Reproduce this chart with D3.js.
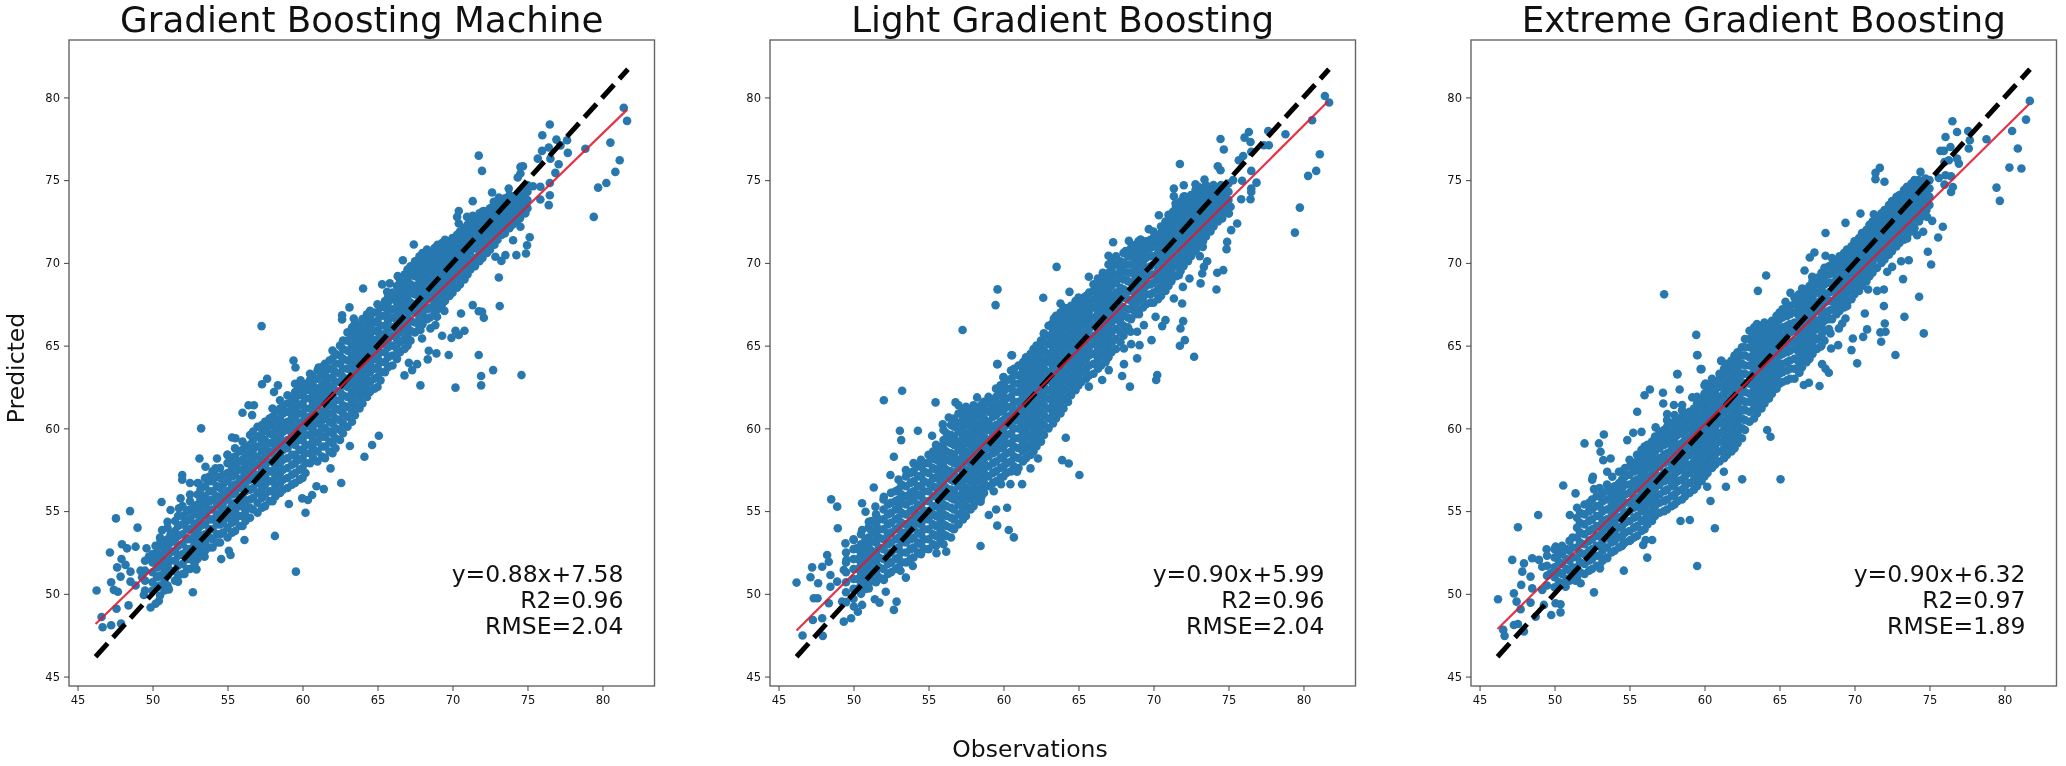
<!DOCTYPE html>
<html><head><meta charset="utf-8">
<script src="https://cdn.jsdelivr.net/npm/d3@7/dist/d3.min.js"></script>
<style>html,body{margin:0;background:#fff}svg{display:block;filter:blur(.4px)}text{font-family:"DejaVu Sans";fill:#111}</style>
</head><body><svg id="c" width="2066" height="766"></svg>
<script>
const titles=["Gradient Boosting Machine","Light Gradient Boosting","Extreme Gradient Boosting"];
const notes=[["y=0.88x+7.58","R2=0.96","RMSE=2.04"],["y=0.90x+5.99","R2=0.96","RMSE=2.04"],["y=0.90x+6.32","R2=0.97","RMSE=1.89"]];
const tickValues=[45,50,55,60,65,70,75,80];
const axisDomain=[44.43,83.47];
const identityEnds=[46.2,81.7];
const fitObs=[46.2,81.65];
const fitPred=[[48.18,79.26],[47.78,79.77],[47.88,79.6]];

// outlying and fringe points, flat x,y reading order
const gbmFringe=[46.27,50.2,46.6,48.6,46.67,47.98,47.24,48.1,47.9,48.2,47.6,49.1,48.4,49.3,47.16,52.5,47.56,54.56,48.5,55,49,54,47.96,53,48.3,52.75,48.87,52.85,47.93,52.1,47.64,51.6,48.2,51.75,48.53,51.34,47.87,51.04,47.24,50.7,47.42,50.24,47.69,50.13,48.53,50.74,49.2,51.4,49.3,51,48.87,50.5,49.6,52.75,50.2,52.9,49.76,52.25,50.3,52.45,50.53,53.25,51.1,53.05,50.64,53.85,51,54.36,50.6,55.55,51.2,55.07,51.76,55.17,52.3,54.96,52.87,54.86,51.87,55.77,52.5,56,53.2,55.9,53.64,55.67,51.98,57.18,51.98,56.9,52.5,56.7,53.09,56.67,53.24,60,53.13,58.18,53.53,57.68,53.76,57.08,54.3,58.18,54.2,57.58,55,58.4,55.3,59.45,55.53,59.4,56,60.94,56.64,60.8,56.4,61.4,56.76,61.4,57.3,62.67,57.64,63,58.36,62.6,58.1,62.2,59.4,64.1,59.53,63.68,61.07,63.68,59.87,62.9,60.53,62.9,57.27,66.18,59.56,51.34,58.16,53.5,60.2,54.9,59.09,55.43,62.58,56.7,64.13,58.28,64.64,58.99,65.09,59.55,63.16,58.93,61.87,57.58,61.42,56.33,60.93,56.5,60.64,55.97,60.36,55.67,59.98,55.77,56.13,53.25,55.09,52.6,55.2,52.35,54.58,52.1,53.47,52.25,52.93,51.48,52.69,50.1,52.13,51.2,51.7,50.74,51.09,50.27,50.2,49.4,49.87,49.17,50.42,49.57,49.42,49.93,81.42,79.38,81.64,78.58,76.49,78.36,75.99,77.71,80.53,77.27,81.15,76.2,80.86,75.5,80.26,74.83,79.71,74.55,79.42,72.78,78.86,76.9,71.75,76.48,71.97,75.56,77.64,77.41,76.93,77.45,76.42,76.97,75.97,76.77,75.69,76.3,76.53,76.3,77.08,75.96,77.69,76.65,77.2,77.1,76.86,75.44,76.49,74.83,76.49,74.09,76.42,73.49,75.86,74.6,75.37,74.63,75.86,73.83,74.53,75.8,74.7,75.84,74.35,75.16,74.53,75.4,73.75,74.49,72.64,74.25,71.35,73.73,70.42,73.14,70.31,72.78,70.42,72.38,70.97,72.78,71.35,72.84,72.09,73.14,72.75,73.69,73.09,73.95,74.09,73.79,74.53,73.89,74.86,73,74.53,72.18,75.15,71.55,74.97,71.07,74.9,70.57,74.26,70.47,73.53,70.47,73.26,70.12,72.86,70.37,74.04,71.37,73.09,69.12,73.15,67.39,71.35,67.45,71.75,67.08,71.97,67.05,72.09,66.68,70.57,66.94,69.46,67.1,68.97,66.74,70.8,65.9,70.2,65.9,69.93,65.47,70.42,65.64,69.31,65.6,68.86,66.24,68.53,66.04,67.86,65.94,67.97,65.43,71.75,64.43,69.75,64.43,68.93,64.53,68.42,64.69,68.35,64.17,72.71,63.52,71.91,63.16,74.6,63.22,71.91,62.6,70.2,62.46,67.86,62.6,67.64,63.88,67.09,63.96,67.31,63.52,66.8,63.2,67.42,71.11,66.69,70.16,66.35,69.2,65.82,68.76,65.31,68.7,64.04,68.45,65.64,68.25,65.71,67.95,66.75,68.65,63.13,67.31,62.64,66.84,62.64,66.58,63.42,66.64];
const gbmCore=[[49.5,50.2,50.8,51.4,52],[50,50.2,50.7,51.3,51.9,52.4],[50.5,49.9,50.5,51.1,51.7,52.3,52.9,53.4],[51,50.5,51.1,51.7,52.2,52.8,53.3,54],[51.5,50.8,51.4,52,52.6,53.2,53.8,54.4],[52,51.2,51.8,52.4,53,53.6,54.2,54.7,55.3],[52.5,51.5,52.1,52.7,53.3,53.9,54.5,55.1,55.6],[53,52.1,52.6,53.2,53.8,54.3,54.9,55.4,56,56.7],[53.5,52.6,53.1,53.6,54.2,54.8,55.3,55.9,56.5,57],[54,52.8,53.3,53.9,54.5,55.1,55.7,56.2,56.8,57.4],[54.5,53.1,53.6,54.2,54.8,55.3,55.8,56.4,57,57.6],[55,53.4,54,54.6,55.1,55.7,56.2,56.8,57.3,57.9,58.4],[55.5,53.8,54.4,55,55.5,56.1,56.6,57.2,57.8,58.3,58.8],[56,54.1,54.7,55.3,55.9,56.4,57,57.5,58.1,58.7,59.2],[56.5,54.6,55.2,55.7,56.3,56.9,57.4,58,58.5,59,59.6],[57,54.9,55.5,56.1,56.7,57.2,57.8,58.3,58.9,59.5,60.1],[57.5,55.3,56,56.6,57.1,57.7,58.2,58.8,59.3,59.9,60.4],[58,55.6,56.2,56.8,57.4,58,58.5,59.1,59.6,60.2,60.7,61.2],[58.5,56.1,56.7,57.3,57.9,58.4,59,59.5,60.1,60.6,61.2,61.7],[59,56.4,57,57.6,58.2,58.8,59.3,59.9,60.4,61,61.5,62],[59.5,56.7,57.3,57.9,58.4,59,59.5,60,60.6,61.1,61.7,62.2,62.7],[60,57,57.6,58.2,58.7,59.3,59.8,60.4,60.9,61.5,62,62.5],[60.5,57.9,58.5,59,59.6,60.1,60.7,61.2,61.8,62.3,62.9,63.3],[61,58,58.6,59.2,59.7,60.3,60.8,61.4,61.9,62.4,63,63.5],[61.5,58.2,58.9,59.5,60,60.6,61.1,61.7,62.2,62.8,63.3,63.9],[62,58.5,59.1,59.7,60.3,60.9,61.4,62,62.5,63.1,63.6,64.2,64.7],[62.5,59.3,59.9,60.5,61.1,61.7,62.2,62.8,63.3,63.9,64.4,65],[63,60.1,60.7,61.3,61.9,62.5,63,63.6,64.1,64.7,65.3,65.8],[63.5,60.8,61.4,62,62.6,63.2,63.7,64.3,64.8,65.4,65.9,66.4],[64,61.5,62.1,62.7,63.3,63.9,64.4,65,65.5,66,66.6],[64.5,62.2,62.8,63.4,63.9,64.5,65,65.6,66.1,66.7,67.1],[65,62.5,63.1,63.7,64.3,64.8,65.4,65.9,66.5,67,67.5],[65.5,63.4,64,64.6,65.1,65.7,66.2,66.8,67.3,67.7],[66,63.8,64.4,65,65.6,66.1,66.7,67.2,67.8,68.2],[66.5,64.6,65.2,65.8,66.3,66.9,67.4,68,68.5,68.9],[67,65,65.6,66.2,66.8,67.3,67.9,68.4,69,69.6],[67.5,65.8,66.4,67,67.5,68.1,68.6,69.2,69.7,70.1],[68,66.3,66.9,67.5,68,68.6,69.1,69.7,70.2,70.6],[68.5,66.7,67.3,67.9,68.5,69,69.6,70.1,70.6],[69,67.2,67.8,68.4,68.9,69.5,70,70.6,71.1],[69.5,67.7,68.3,68.9,69.4,70,70.5,71,71.4],[70,68.2,68.8,69.4,69.9,70.4,71,71.5],[70.5,68.7,69.3,69.9,70.4,70.9,71.4,71.9],[71,69.3,69.8,70.4,70.9,71.4,71.9,72.3],[71.5,69.8,70.3,70.9,71.4,71.9,72.3,72.7],[72,70.3,70.8,71.4,71.9,72.4,72.8,73.1],[72.5,70.8,71.3,71.9,72.4,72.9,73.3],[73,71.4,72,72.5,73,73.5],[73.5,71.8,72.4,72.9,73.4,73.9],[74,72.3,72.9,73.4,73.9],[74.5,72.7,73.3,73.8,74.3],[75,73.3,73.8,74.3,74.7]];
const gbmFill=[[50.3,50.4,51,51.6,52.1],[50.8,50.2,50.8,51.4,52,52.6,53.1],[51.2,51.4,52,52.5,53.1,53.6],[51.7,51.1,51.7,52.3,52.9,53.5,54.1,54.7],[52.3,51.5,52.1,52.7,53.3,53.9,54.4,55],[52.8,51.8,52.4,53,53.6,54.2,54.8,55.3],[53.2,52.4,52.9,53.5,54.1,54.6,55.2,55.7,56.3],[53.8,52.8,53.4,53.9,54.5,55.1,55.6,56.2,56.8],[54.3,53.1,53.6,54.2,54.8,55.4,55.9,56.5,57.1],[54.7,53.7,54.3,54.9,55.5,56,56.6,57.2],[55.3,53.7,54.3,54.8,55.4,56,56.5,57.1,57.6,58.1],[55.8,54.1,54.7,55.3,55.8,56.4,56.9,57.5,58,58.6],[56.2,54.4,55,55.6,56.2,56.7,57.3,57.8,58.4,58.9],[56.7,55.1,55.8,56.4,57,57.6,58.2,58.7,59.3,59.8],[57.3,55.2,55.8,56.4,56.9,57.5,58,58.6,59.2,59.7,60.2],[57.8,55.6,56.2,56.8,57.4,58,58.6,59.1,59.7,60.2,60.6],[58.2,55.9,56.5,57.1,57.7,58.2,58.8,59.3,59.9,60.5,61],[58.7,56.3,56.9,57.5,58.1,58.7,59.2,59.8,60.3,60.9,61.4],[59.3,56.6,57.2,57.8,58.4,59.1,59.6,60.2,60.7,61.3,61.8],[59.8,56.9,57.5,58.1,58.7,59.3,59.8,60.3,60.9,61.4,62,62.4],[60.2,57.3,57.9,58.5,59,59.6,60.1,60.7,61.2,61.8,62.3,62.7],[60.7,58.2,58.8,59.3,59.9,60.4,61,61.5,62.1,62.6,63.1],[61.3,58.3,58.9,59.5,60,60.5,61,61.6,62.1,62.6,63.2,63.7],[61.8,58.6,59.2,59.8,60.4,60.9,61.4,62,62.5,63,63.6,64.1],[62.2,58.8,59.4,60,60.6,61.2,61.7,62.3,62.8,63.4,63.9,64.5],[62.7,59.7,60.3,60.9,61.4,62,62.6,63.1,63.6,64.2,64.8,65.3],[63.3,60.4,61,61.6,62.2,62.8,63.3,63.9,64.4,65,65.6,66.1],[63.8,61.2,61.8,62.3,62.9,63.5,64,64.6,65.1,65.7,66.2],[64.3,61.9,62.4,63,63.6,64.2,64.7,65.3,65.8,66.4,66.9],[64.8,62.4,63,63.6,64.2,64.8,65.3,65.9,66.4,67],[65.2,62.9,63.4,64,64.6,65.1,65.7,66.2,66.8,67.3],[65.7,63.7,64.3,64.9,65.4,66,66.5,67.1,67.6],[66.3,64.2,64.8,65.4,66,66.5,67.1,67.6,68.1,68.6],[66.8,64.8,65.4,66,66.6,67.1,67.7,68.2,68.8,69.3],[67.2,65.3,65.9,66.5,67.1,67.6,68.2,68.7,69.3,69.8],[67.8,66.1,66.7,67.3,67.8,68.4,68.9,69.5,70,70.4],[68.3,66.6,67.2,67.8,68.3,68.9,69.4,69.9,70.4,70.8],[68.8,67,67.6,68.2,68.8,69.3,69.8,70.4,70.9],[69.3,67.5,68.1,68.7,69.2,69.8,70.3,70.8,71.2],[69.8,68,68.6,69.2,69.7,70.2,70.8,71.3],[70.3,68.5,69.1,69.7,70.2,70.7,71.2,71.7],[70.8,69,69.6,70.2,70.7,71.2,71.7,72.1],[71.2,69.6,70.1,70.7,71.2,71.7,72.1,72.5],[71.8,70.1,70.6,71.2,71.7,72.2,72.6,73],[72.3,70.6,71.1,71.7,72.2,72.7,73.1],[72.8,71.1,71.7,72.2,72.7,73.2,73.6],[73.3,71.7,72.2,72.7,73.2,73.7],[73.8,72.1,72.7,73.2,73.7,74.1],[74.3,72.5,73.1,73.6,74.1],[74.8,73,73.5,74,74.5]];

const lgbFringe=[46.2,50.68,46.6,47.48,47.95,47.46,47.24,51.6,47.13,51,47.35,49.73,47.6,49.73,47.29,48.42,47.91,48.52,48.24,52.35,47.91,51.64,48.35,51.94,47.64,50.64,48.46,51.14,48.46,50.43,48.91,50.74,48.35,49.43,49.24,49.53,49.35,48.32,49.84,48.52,50.29,48.92,50.57,49.33,50.02,49.23,51.42,49.67,51.73,49.47,52.69,49.03,52.87,49.53,52.15,50.13,51.02,50.33,53.49,50.98,53.13,51.4,53.95,51.68,52.02,50.84,48.51,55.71,48.91,55.27,48.95,53.96,49.46,53.05,50.02,53.25,50.57,53.86,50.57,55.47,51.02,54.36,51.46,55.27,50.8,54.96,49.53,52.05,49.35,51.44,50.2,52.75,52.02,61.7,53.24,62.27,55.47,61.57,56.8,61.57,53.09,59.86,53.18,59.29,54.29,59.86,55.24,59.55,52.69,58.28,53.49,57.48,56.24,59.43,55.95,60.24,56.35,60.66,57.26,61,58.24,61.87,59.58,63.88,60.53,64.42,59.73,62.31,60,63.08,51.35,56.43,52.02,55.87,52.46,57.18,58.47,52.89,56.18,52.55,55.53,52.45,59.58,54.12,60.35,53.86,60.69,53.41,59.02,54.76,59.51,55.1,60.24,55.2,59.35,56.2,61.24,56.63,60.46,56.63,59.84,56.63,61.8,57.58,60.9,57.38,62.3,58.18,64.15,59.43,63.91,58.08,64.35,57.88,65.06,57.18,58.51,55.87,58.47,55.57,81.43,80.09,81.71,79.69,80.58,78.62,78.8,77.77,81.09,76.57,80.85,75.56,80.31,75.26,79.76,73.34,79.43,71.83,74.47,77.49,74.69,76.85,76.36,77.91,76.07,77.57,76.47,77.31,77.65,77.97,77.36,77.11,77.69,77.11,76.52,76.71,75.98,76.46,75.69,76.2,71.76,75.98,74.29,75.84,74.47,75.6,76.52,75.56,75.31,75,75.91,74.96,76.87,74.85,76.52,74.49,76.52,74.28,75.85,73.85,76.47,73.85,73.4,75.04,72.8,74.75,72.02,74.69,71.36,74.49,71.36,74.03,72.07,74.03,73.69,74.59,70.36,72.88,71.29,73.08,71.47,73.59,69.69,72.04,67.31,71.25,68.36,71.33,69.14,71.41,70.25,71.57,67,70.43,68.14,70.71,63.54,69.76,65.69,69.16,66.62,69.4,66.29,69.06,64.4,68.25,62.65,67.89,63.8,67.55,64.14,67.25,65.36,67.91,63.36,66.64,63.14,66.24,63.91,65.84,62.69,65.74,63.47,65.33,75.14,73.39,75.03,72.98,75.58,72.38,75.18,71.98,74.58,72.68,74.91,71.27,74.87,70.83,73.29,70.97,73.09,70.41,73.58,70.1,73.36,69.76,73.25,69.36,74.65,69.56,74.25,69.4,73.14,68.76,74.2,68.39,72.4,69.06,71.96,68.55,71.69,69.26,71.91,67.55,71.36,67.85,70.14,66.74,70.8,66.54,70.58,66.18,71.98,66.48,71.8,66.04,69.36,66.24,69.03,66.9,68.91,65.84,68.47,65.84,68.03,65.84,69.87,65.33,72.09,65.33,71.76,64.99,72.71,64.33,69.07,65.03,68.51,65.09,68.91,64.23,68.03,63.88,67.91,63.16,70.25,63.22,70.18,62.92,68.43,62.52,65.69,62.52,67.02,63.52,66.91,64.23,68.03,64.83,67.25,65.23,66.58,62.92,57.27,65.94,59.47,67.45,59.6,68.4,60.57,64.42,59.6,63.88];
const lgbCore=[[49.5,49.5,50.1,50.7,51.3,51.9,52.5],[50,49.7,50.3,50.9,51.5,52.1,52.7,53.3],[50.5,50,50.6,51.2,51.8,52.4,53,53.6],[51,50.6,51.2,51.8,52.3,52.9,53.4,54],[51.5,50.7,51.3,51.9,52.5,53.1,53.6,54.2,54.8],[52,50.9,51.5,52.1,52.7,53.3,53.9,54.5,55.1,55.7],[52.5,51.3,51.9,52.5,53.1,53.7,54.3,54.9,55.5,56.1],[53,51.6,52.2,52.8,53.4,54,54.6,55.2,55.7,56.3,56.9],[53.5,51.9,52.5,53.1,53.7,54.2,54.8,55.4,55.9,56.5,57.1],[54,52.2,52.8,53.4,54,54.5,55.1,55.7,56.2,56.8,57.4,57.9],[54.5,52.4,53,53.6,54.2,54.7,55.3,55.9,56.5,57.1,57.7,58.1],[55,52.7,53.3,53.9,54.5,55,55.6,56.2,56.7,57.3,57.9,58.4],[55.5,52.9,53.5,54.1,54.7,55.3,55.9,56.4,57,57.5,58.1,58.6,59],[56,53,53.6,54.2,54.8,55.4,56,56.6,57.1,57.7,58.2,58.8,59.3,59.9],[56.5,53.4,54,54.6,55.2,55.8,56.3,56.9,57.4,58,58.5,59.1,59.6,60.2],[57,54.2,54.8,55.4,55.9,56.5,57,57.6,58.1,58.7,59.2,59.8,60.3,60.9,61.4],[57.5,54.7,55.3,55.9,56.4,57,57.5,58.1,58.6,59.2,59.7,60.3,60.8,61.3],[58,55.3,55.9,56.5,57.1,57.6,58.2,58.7,59.3,59.8,60.4,60.9,61.4],[58.5,55.8,56.4,57,57.6,58.1,58.7,59.2,59.8,60.3,60.9,61.4],[59,56.5,57.1,57.7,58.3,58.8,59.3,59.9,60.4,61,61.5,61.9],[59.5,56.8,57.4,58,58.6,59.1,59.7,60.2,60.8,61.3,61.9,62.4],[60,57.1,57.7,58.3,58.9,59.4,60,60.5,61.1,61.6,62.2,62.7,63.1],[60.5,57.4,58,58.6,59.1,59.7,60.2,60.8,61.3,61.9,62.4,63,63.5],[61,57.6,58.2,58.8,59.4,60,60.5,61.1,61.6,62.2,62.7,63.2,63.8],[61.5,58.2,58.8,59.4,60,60.5,61.1,61.6,62.2,62.7,63.3,63.8,64.3],[62,58.6,59.2,59.8,60.4,60.9,61.5,62,62.6,63.1,63.7,64.2,64.8],[62.5,59.2,59.8,60.4,61,61.5,62.1,62.6,63.2,63.7,64.3,64.8,65.3],[63,60,60.6,61.2,61.8,62.3,62.9,63.4,64,64.5,65.1,65.6,66.2],[63.5,60.6,61.2,61.8,62.4,62.9,63.5,64,64.6,65.1,65.7,66.2,66.8],[64,61.2,61.8,62.4,63,63.5,64.1,64.6,65.2,65.7,66.3,66.8,67.3],[64.5,62,62.6,63.1,63.7,64.2,64.8,65.3,65.9,66.4,66.9,67.4],[65,62.6,63.2,63.7,64.3,64.8,65.4,65.9,66.5,67,67.5,67.9],[65.5,63,63.6,64.2,64.7,65.3,65.8,66.4,66.9,67.4,68],[66,63.3,63.9,64.5,65.1,65.6,66.2,66.7,67.3,67.8,68.3,68.7],[66.5,63.8,64.4,65,65.6,66.1,66.7,67.2,67.8,68.3,68.8],[67,64.3,64.9,65.5,66.1,66.6,67.2,67.7,68.3,68.8,69.4,69.9],[67.5,64.8,65.4,66,66.6,67.1,67.7,68.2,68.8,69.3,69.9,70.4],[68,65.6,66.2,66.8,67.3,67.9,68.4,69,69.5,70,70.6],[68.5,66.6,67.2,67.7,68.3,68.8,69.4,69.9,70.4,70.9],[69,67.1,67.7,68.2,68.8,69.3,69.9,70.4,70.9,71.3],[69.5,67.5,68.1,68.6,69.2,69.7,70.3,70.8,71.3],[70,67.6,68.2,68.8,69.3,69.9,70.4,71,71.5,71.9],[70.5,68,68.6,69.2,69.7,70.3,70.8,71.3,71.8,72.2],[71,68.6,69.2,69.8,70.3,70.9,71.4,71.9,72.4,72.9],[71.5,69.2,69.8,70.3,70.9,71.4,71.9,72.4,72.9,73.4],[72,69.8,70.4,70.9,71.5,72,72.5,73,73.5,74],[72.5,70.4,71,71.5,72.1,72.6,73.1,73.6,74.1],[73,71,71.6,72.2,72.7,73.2,73.7,74.2,74.6],[73.5,71.6,72.2,72.7,73.2,73.7,74.2,74.7],[74,72.2,72.7,73.2,73.7,74.2,74.7],[74.5,72.7,73.2,73.7,74.2,74.7],[75,73.3,73.8,74.3,74.8]];
const lgbFill=[[50.3,50.3,50.9,51.5,52.1,52.7],[50.8,50.3,50.9,51.5,52.1,52.7,53.3],[51.2,50.9,51.5,52.1,52.6,53.2,53.8,54.4],[51.7,51,51.6,52.2,52.8,53.4,53.9,54.5],[52.3,51.2,51.8,52.4,53,53.6,54.2,54.8,55.4],[52.8,51.5,52.1,52.7,53.3,53.9,54.5,55.1,55.6,56.2],[53.2,51.9,52.5,53.1,53.7,54.3,54.9,55.5,56,56.6],[53.8,52.1,52.7,53.3,53.9,54.4,55,55.6,56.1,56.7,57.3],[54.3,52.5,53.1,53.7,54.3,54.8,55.4,56,56.5,57.1,57.7],[54.7,52.7,53.3,53.9,54.5,55,55.6,56.2,56.8,57.4,57.9],[55.3,53,53.6,54.2,54.8,55.3,55.9,56.5,57,57.6,58.2,58.6],[55.8,53.2,53.8,54.4,55,55.6,56.2,56.7,57.3,57.8,58.4,58.9],[56.2,53.5,54.1,54.7,55.3,55.9,56.4,57,57.5,58.1,58.6,59.2,59.7],[56.7,53.9,54.5,55.1,55.7,56.2,56.8,57.3,57.9,58.4,59,59.5,60.1,60.6],[57.3,54.5,55.1,55.7,56.2,56.8,57.3,57.9,58.4,59,59.5,60.1,60.6,61.1],[57.8,55.1,55.7,56.2,56.8,57.3,57.9,58.4,59,59.5,60.1,60.6,61.1],[58.2,55.6,56.2,56.8,57.4,57.9,58.5,59,59.6,60.1,60.7,61.2],[58.7,56.1,56.7,57.3,57.9,58.4,59,59.5,60.1,60.6,61.2,61.6],[59.3,56.7,57.3,57.9,58.5,59,59.6,60.1,60.7,61.2,61.7],[59.8,57,57.6,58.2,58.8,59.3,59.9,60.4,61,61.5,62,62.6],[60.2,57.3,57.9,58.5,59.1,59.6,60.2,60.7,61.3,61.8,62.4,62.9],[60.7,57.7,58.3,58.9,59.4,60,60.5,61.1,61.6,62.2,62.7,63.2,63.6],[61.3,58,58.6,59.1,59.7,60.3,60.8,61.4,61.9,62.4,63,63.5,64],[61.8,58.4,59,59.6,60.2,60.7,61.3,61.8,62.4,62.9,63.5,64,64.5],[62.2,58.9,59.5,60.1,60.7,61.2,61.8,62.3,62.9,63.4,64,64.5,65],[62.7,59.6,60.2,60.8,61.4,61.9,62.5,63,63.6,64.1,64.7,65.2,65.7],[63.3,60.3,60.9,61.5,62.1,62.6,63.2,63.7,64.3,64.8,65.4,65.9,66.4],[63.8,60.9,61.5,62.1,62.7,63.2,63.8,64.3,64.9,65.4,66,66.5,67],[64.3,61.6,62.2,62.8,63.3,63.9,64.4,65,65.5,66.1,66.6,67.1],[64.8,62.3,62.9,63.4,64,64.5,65.1,65.6,66.2,66.7,67.2,67.7],[65.2,62.8,63.4,64,64.5,65.1,65.6,66.2,66.7,67.2,67.7],[65.7,63.2,63.8,64.4,64.9,65.5,66,66.6,67.1,67.6,68.2],[66.3,63.6,64.2,64.8,65.3,65.9,66.4,67,67.5,68,68.5],[66.8,64,64.6,65.2,65.8,66.4,66.9,67.5,68,68.6,69.1],[67.2,64.6,65.2,65.8,66.4,66.9,67.5,68,68.6,69.1,69.6,70.1],[67.8,65.2,65.8,66.4,66.9,67.4,68,68.5,69.1,69.6,70.1],[68.3,66.1,66.7,67.2,67.8,68.3,68.9,69.4,69.9,70.4],[68.8,66.9,67.5,68,68.6,69.1,69.7,70.2,70.7,71.1],[69.3,67.3,67.9,68.4,69,69.5,70.1,70.6,71.1],[69.8,67.6,68.1,68.7,69.3,69.8,70.4,70.9,71.4],[70.3,67.8,68.4,69,69.5,70.1,70.6,71.2,71.6],[70.8,68.3,68.9,69.5,70,70.6,71.1,71.6,72.1,72.5],[71.2,68.9,69.5,70.1,70.6,71.2,71.7,72.2,72.7],[71.8,69.5,70.1,70.6,71.2,71.7,72.2,72.7,73.2,73.7],[72.3,70.1,70.7,71.2,71.8,72.3,72.8,73.3,73.8],[72.8,70.7,71.3,71.9,72.4,72.9,73.4,73.9,74.4],[73.3,71.3,71.9,72.5,73,73.5,74,74.5],[73.8,71.9,72.5,73,73.5,74,74.5],[74.3,72.5,73,73.5,74,74.5],[74.8,73,73.5,74,74.5]];

const xgbFringe=[46.23,49.67,46.58,47.82,46.67,47.46,47.29,48.12,47.56,48.18,47.96,47.72,47.18,52.05,47.56,54.02,48.91,54.76,47.29,50.03,47.47,49.53,47.78,50.54,47.74,49.07,48.4,49.47,47.96,51.84,48.51,52.15,47.85,51.34,48.4,51.04,48.51,50.33,48.96,52.05,49.18,51.64,49.47,52.69,49.18,50.23,49.74,51.24,50.18,52.25,50.07,52.85,50.58,56.55,51.02,54.76,51.4,56.07,52,59.09,53.29,59.63,52.96,59.09,53.07,58.59,53.25,58.08,53.74,58.18,53.51,57.38,53.85,57.08,54.29,57.38,52.56,57.08,52.51,56.9,52.63,56.33,54.85,59.29,55.25,59.73,55.8,59.79,55.51,61,56,62,56.36,62.35,57.23,62.15,58.34,62.35,58.18,63.28,59.74,63.58,59.51,64.42,61.11,64.08,60.07,62.71,59.18,61.87,57.25,61.5,57.51,60.86,58.51,61.41,57.96,61.41,56.74,60.06,59.51,51.68,60.69,53.96,58.4,54.4,59.02,54.46,60.4,55.61,62.51,56.92,61.43,56.47,65.07,56.92,64.4,59.49,64.18,59.9,62.07,59.13,61.29,57.38,60.18,56.47,56.18,52.19,54.62,51.4,52.63,50.09,56.51,53.25,55.91,52.95,56.07,53.25,55.07,53.25,54.62,53.05,53.03,51.54,53.51,52.15,51.74,50.64,51.4,50.8,50.74,50.43,50.4,49.37,50.07,49.43,49.78,48.72,50.4,48.88,49.29,49.33,48.74,48.62,81.69,79.79,81.44,78.66,80.51,77.97,80.89,76.91,80.33,75.76,81.13,75.7,79.47,74.55,79.69,73.75,78.8,77.47,76.53,78.56,76.84,77.91,76.07,77.61,77.58,77.97,76.4,77,75.73,76.77,75.96,76.77,77.69,77.41,77.62,76.91,76.84,76.3,76.96,76,76.29,76.2,76,76.1,76.07,75.3,76.44,75.24,75.62,75.14,76,74.73,76.56,74.59,76.44,74.29,74.4,75.5,74.73,75.1,71.69,75.74,71.4,75.44,71.4,75.06,72,74.9,73.33,74.19,73.96,74.29,72.51,73.73,70.4,72.98,71.29,72.94,69.4,72.42,68.07,71.81,75.89,72.18,75.58,71.53,74.89,70.67,75.11,69.9,75.18,72.54,74.84,72.78,74.58,71.88,74.18,71.67,73.51,71.47,67.33,70.63,67.02,70.33,68.07,70.43,66.67,69.54,64.11,69.24,63.56,68.31,65.73,68.19,67.18,69.16,66.51,68.45,65.4,67.65,73.62,70.16,73.11,70.1,72.51,69.76,72.18,69.46,73.24,69.02,71.96,68.39,71.51,68.31,70.91,68.39,74.31,67.95,71.96,67.39,70.69,66.94,73.33,66.74,72.02,66.34,70.84,65.98,72.07,65.84,71.73,65.8,74.62,65.74,70.58,65.53,69.89,65.43,71.78,65.23,69.8,64.73,68.91,65.03,68.44,64.83,72.73,64.43,70.18,63.93,67.84,63.88,68.29,63.36,68.07,63.6,67.67,62.56,66.33,63.36,66.96,62.76,66.62,62.62,69.51,67.39,68.96,67.35,69.4,66.64,69.18,66.34,68.96,66.04,68.4,65.74,67.73,64.93,57.31,68.1,59.45,65.65,59.53,64.43,59.8,63.58,58.2,63.28,61.13,64.08];
const xgbCore=[[49.5,50.5,51.1,51.7,52.3],[50,50.4,51,51.6,52.2,52.7],[50.5,50.6,51.2,51.8,52.4,52.9],[51,50.8,51.4,52,52.6,53.2],[51.5,51,51.6,52.2,52.8,53.4,54,54.6,55.2],[52,51.2,51.8,52.4,53,53.6,54.2,54.8,55.4],[52.5,51.5,52.1,52.7,53.3,53.9,54.5,55.1,55.7],[53,51.7,52.3,52.9,53.5,54.1,54.7,55.3,55.9,56.4],[53.5,52.2,52.8,53.4,54,54.5,55.1,55.7,56.2,56.6],[54,52.6,53.2,53.7,54.3,54.9,55.4,56,56.5],[54.5,52.9,53.5,54.1,54.7,55.3,55.9,56.4,56.9,57.4],[55,53.2,53.8,54.4,55,55.5,56.1,56.6,57.2,57.7,58.1],[55.5,53.5,54.1,54.7,55.3,55.8,56.4,56.9,57.5,58,58.4],[56,53.9,54.5,55.1,55.7,56.2,56.8,57.3,57.9,58.4,58.9],[56.5,54.4,55,55.6,56.1,56.7,57.2,57.8,58.3,58.8,59.2],[57,54.9,55.5,56,56.6,57.1,57.7,58.2,58.8,59.3,59.8],[57.5,55.1,55.7,56.3,56.9,57.4,58,58.5,59.1,59.6,60.1,60.5],[58,55.4,56,56.6,57.2,57.7,58.3,58.8,59.4,59.9,60.4,60.8],[58.5,55.7,56.3,56.9,57.5,58,58.6,59.1,59.7,60.2,60.7,61.1],[59,56.1,56.7,57.3,57.8,58.4,58.9,59.5,60,60.5,61],[59.5,56.5,57.1,57.7,58.2,58.8,59.3,59.9,60.4,60.9,61.5,61.9],[60,57.1,57.7,58.3,58.8,59.4,59.9,60.5,61,61.5,62.1,62.6],[60.5,57.6,58.2,58.7,59.3,59.8,60.4,60.9,61.5,62,62.6,63],[61,58,58.6,59.2,59.7,60.3,60.8,61.4,61.9,62.5,63,63.3],[61.5,58.4,59,59.5,60.1,60.6,61.2,61.7,62.3,62.8,63.4,63.9],[62,58.8,59.4,60,60.5,61.1,61.6,62.2,62.7,63.3,63.8,64.4],[62.5,59.4,60,60.6,61.1,61.7,62.2,62.8,63.3,63.9,64.4,64.9],[63,60.4,61,61.6,62.1,62.7,63.2,63.8,64.3,64.9,65.4,65.9],[63.5,60.9,61.5,62.1,62.6,63.2,63.7,64.3,64.8,65.4,65.9,66.3],[64,61.5,62.1,62.6,63.2,63.7,64.3,64.8,65.4,65.9,66.4],[64.5,62.1,62.7,63.2,63.8,64.3,64.9,65.4,66,66.5],[65,62.7,63.3,63.8,64.4,64.9,65.5,66,66.6,67],[65.5,62.9,63.5,64,64.6,65.1,65.7,66.2,66.8,67.3],[66,63,63.6,64.2,64.8,65.3,65.9,66.4,67,67.5,67.9],[66.5,63.7,64.3,64.9,65.4,66,66.5,67.1,67.6,68.2],[67,64.2,64.8,65.4,65.9,66.5,67,67.6,68.1,68.6],[67.5,64.8,65.4,66,66.5,67.1,67.6,68.2,68.7,69.1],[68,65.3,65.9,66.5,67,67.6,68.1,68.7,69.2,69.7],[68.5,66.6,67.2,67.7,68.3,68.8,69.4,69.9,70.3],[69,67.1,67.7,68.2,68.8,69.3,69.9,70.4],[69.5,67.6,68.2,68.7,69.3,69.8,70.3,70.8],[70,68.1,68.7,69.2,69.8,70.3,70.8,71.3],[70.5,68.6,69.2,69.7,70.3,70.8,71.3,71.8],[71,69.2,69.8,70.3,70.8,71.3,71.8,72.3],[71.5,69.7,70.3,70.8,71.3,71.8,72.3,72.7],[72,70.2,70.8,71.3,71.8,72.3,72.8,73.2],[72.5,70.7,71.3,71.8,72.3,72.8,73.3,73.7],[73,71.2,71.8,72.3,72.8,73.3,73.8,74.1],[73.5,71.6,72.2,72.7,73.2,73.7,74.2,74.6],[74,72.1,72.7,73.2,73.7,74.2,74.7,75],[74.5,72.8,73.3,73.8,74.3,74.8],[75,73.5,74,74.5,75]];
const xgbFill=[[50.3,50.7,51.3,51.9,52.5],[50.8,50.9,51.5,52.1,52.7],[51.2,51,51.6,52.2,52.8,53.4],[51.7,51.3,51.9,52.5,53.1,53.7,54.3,54.9],[52.3,51.4,52,52.6,53.2,53.8,54.4,55,55.5],[52.8,51.7,52.3,52.9,53.5,54.1,54.7,55.3,55.9],[53.2,52,52.6,53.2,53.8,54.4,55,55.6,56.1],[53.8,52.5,53.1,53.6,54.2,54.7,55.3,55.8,56.3],[54.3,52.8,53.4,54,54.6,55.2,55.7,56.2,56.7],[54.7,53.1,53.7,54.3,54.9,55.5,56,56.6,57.1,57.6],[55.3,53.4,54,54.6,55.2,55.7,56.3,56.8,57.4,57.9],[55.8,53.8,54.4,55,55.5,56.1,56.6,57.2,57.7,58.2,58.7],[56.2,54.2,54.8,55.4,55.9,56.5,57,57.6,58.1,58.6,59],[56.7,54.7,55.3,55.8,56.4,56.9,57.5,58,58.6,59.1,59.5],[57.3,55,55.6,56.2,56.8,57.3,57.9,58.4,59,59.5,59.9],[57.8,55.3,55.9,56.5,57,57.6,58.1,58.7,59.2,59.7,60.3],[58.2,55.6,56.2,56.8,57.4,57.9,58.5,59,59.6,60.1,60.6],[58.7,55.9,56.5,57.1,57.7,58.2,58.8,59.3,59.9,60.4,60.9],[59.3,56.3,56.9,57.5,58,58.6,59.1,59.7,60.2,60.7,61.2],[59.8,56.8,57.4,58,58.5,59.1,59.6,60.2,60.7,61.3,61.8],[60.2,57.3,57.9,58.5,59,59.6,60.1,60.7,61.2,61.8,62.3],[60.7,57.8,58.4,58.9,59.5,60,60.6,61.1,61.7,62.2,62.8],[61.3,58.2,58.8,59.3,59.9,60.4,61,61.5,62.1,62.6,63.2,63.6],[61.8,58.6,59.2,59.7,60.3,60.8,61.4,61.9,62.5,63,63.6,64.1],[62.2,59.1,59.7,60.3,60.8,61.4,61.9,62.5,63,63.6,64.1,64.6],[62.7,59.9,60.5,61.1,61.6,62.2,62.7,63.3,63.8,64.4,64.9,65.4],[63.3,60.6,61.2,61.8,62.4,62.9,63.5,64,64.6,65.1,65.7,66.1],[63.8,61.2,61.8,62.4,62.9,63.5,64,64.6,65.1,65.7,66.2],[64.3,61.8,62.4,62.9,63.5,64,64.6,65.1,65.7,66.2],[64.8,62.4,63,63.5,64.1,64.6,65.2,65.7,66.3,66.8],[65.2,62.8,63.4,63.9,64.5,65,65.6,66.1,66.7,67.2],[65.7,63,63.6,64.1,64.7,65.2,65.8,66.3,66.9,67.4],[66.3,63.4,64,64.6,65.1,65.7,66.2,66.8,67.3,67.8,68.1],[66.8,64,64.6,65.2,65.7,66.3,66.8,67.4,67.9,68.4],[67.2,64.5,65.1,65.7,66.2,66.8,67.3,67.9,68.4,68.9],[67.8,65,65.6,66.2,66.7,67.3,67.8,68.4,68.9,69.4],[68.3,66,66.6,67.1,67.7,68.2,68.8,69.3,69.8],[68.8,66.9,67.5,68,68.6,69.1,69.7,70.1],[69.3,67.3,67.9,68.5,69,69.6,70.1,70.6],[69.8,67.8,68.4,69,69.5,70.1,70.6,71],[70.3,68.3,68.9,69.5,70,70.5,71,71.5],[70.8,68.9,69.5,70,70.5,71,71.5,72],[71.2,69.4,70,70.5,71,71.5,72,72.5],[71.8,70,70.5,71,71.6,72.1,72.6,73],[72.3,70.5,71,71.6,72.1,72.6,73.1,73.5],[72.8,71,71.5,72.1,72.6,73.1,73.6,74],[73.3,71.4,72,72.5,73,73.5,74,74.4],[73.8,71.9,72.5,73,73.5,74,74.5,74.8],[74.3,72.5,73,73.5,74,74.5,75],[74.8,73.2,73.7,74.2,74.7]];

const fringes=[gbmFringe,lgbFringe,xgbFringe];
const cores=[gbmCore,lgbCore,xgbCore];
const fills=[gbmFill,lgbFill,xgbFill];
const panelLeft=[69,770,1471];
const panelW=585.5,panelTop=40,panelBottom=686;

const svg=d3.select("#c");
fringes.forEach((fr,i)=>{
  const pts=[];
  for(let k=0;k<fr.length;k+=2)pts.push([fr[k],fr[k+1]]);
  cores[i].concat(fills[i]).forEach(c=>c.slice(1).forEach(y=>pts.push([c[0],y])));
  const x=d3.scaleLinear().domain(axisDomain).range([panelLeft[i],panelLeft[i]+panelW]);
  const y=d3.scaleLinear().domain(axisDomain).range([panelBottom,panelTop]);
  const g=svg.append("g");
  g.selectAll("circle").data(pts).join("circle")
    .attr("cx",d=>x(d[0])).attr("cy",d=>y(d[1])).attr("r",4.3).attr("fill","#2878b0");
  g.append("line").attr("x1",x(identityEnds[0])).attr("y1",y(identityEnds[0])).attr("x2",x(identityEnds[1])).attr("y2",y(identityEnds[1]))
    .attr("stroke","#000").attr("stroke-width",5).attr("stroke-dasharray","18,8");
  g.append("line").attr("x1",x(fitObs[0])).attr("y1",y(fitPred[i][0])).attr("x2",x(fitObs[1])).attr("y2",y(fitPred[i][1]))
    .attr("stroke","#e0182d").attr("stroke-opacity",.88).attr("stroke-width",2.2);
  g.append("rect").attr("x",panelLeft[i]).attr("y",panelTop).attr("width",panelW).attr("height",panelBottom-panelTop)
    .attr("fill","none").attr("stroke","#666").attr("stroke-width",1.4);
  const ax=g.append("g").attr("transform",`translate(0,${panelBottom})`).call(d3.axisBottom(x).tickValues(tickValues).tickSize(5).tickPadding(5));
  const ay=g.append("g").attr("transform",`translate(${panelLeft[i]},0)`).call(d3.axisLeft(y).tickValues(tickValues).tickSize(5).tickPadding(4));
  [ax,ay].forEach(a=>{a.select(".domain").remove();a.selectAll("line").attr("stroke","#444");
    a.selectAll("text").style("font-family","DejaVu Sans").style("font-size","11.5px").attr("fill","#222");});
  g.append("text").attr("x",panelLeft[i]+panelW/2).attr("y",32).attr("text-anchor","middle").style("font-size","35.7px").text(titles[i]);
  notes[i].forEach((t,k)=>g.append("text").attr("x",panelLeft[i]+panelW-31).attr("y",582+26*k).attr("text-anchor","end").style("font-size","23.5px").text(t));
});
svg.append("text").attr("transform","translate(24,368) rotate(-90)").attr("text-anchor","middle").style("font-size","23.5px").text("Predicted");
svg.append("text").attr("x",1030).attr("y",757).attr("text-anchor","middle").style("font-size","23.5px").text("Observations");
</script></body></html>
